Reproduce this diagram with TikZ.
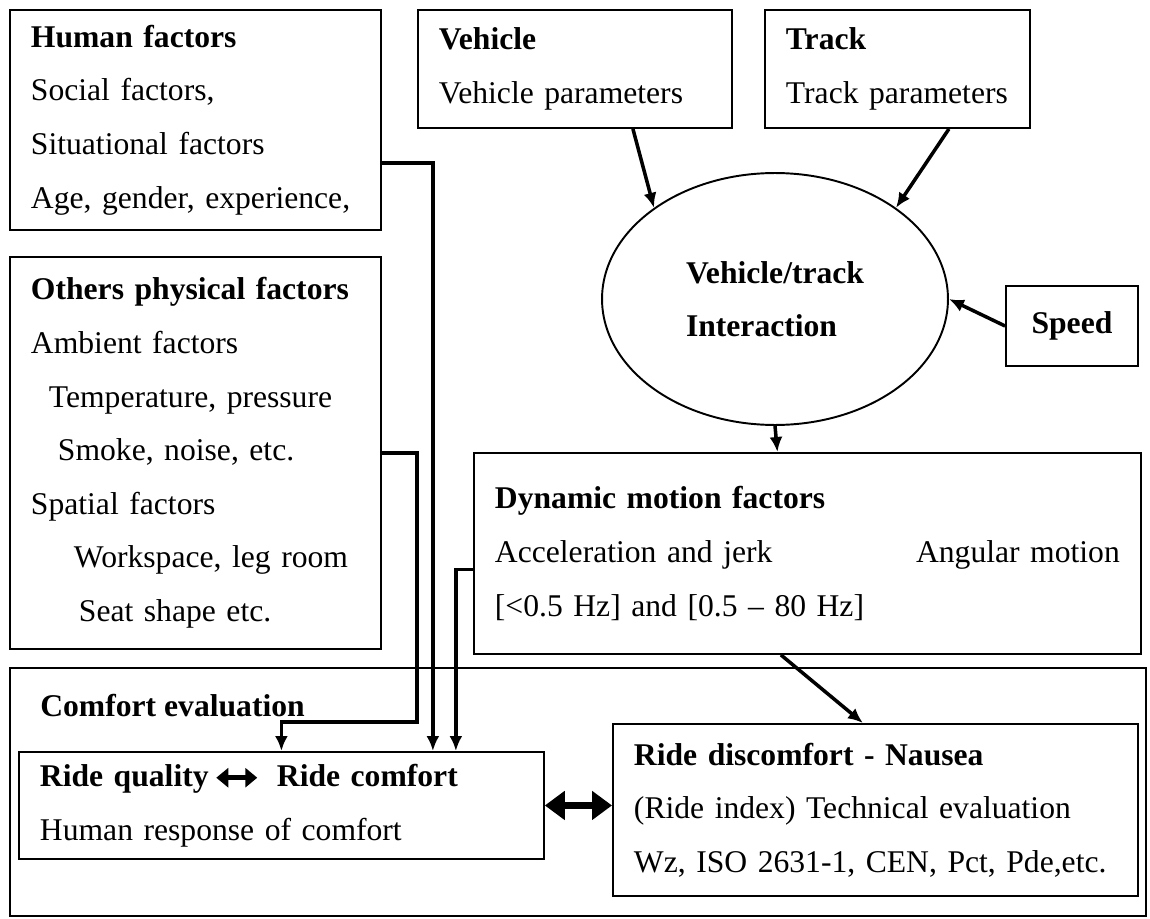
\documentclass[tikz,border=0pt]{standalone}
\usepackage{fontspec}
\setmainfont{Liberation Serif}
\usetikzlibrary{arrows.meta,shapes.geometric}
\usetikzlibrary{positioning}
\tikzset{
    box/.style={
           draw, line width=1.1pt,
           anchor=north west,
           align=left,
           inner xsep=0.42cm, inner ysep=0pt,
           font=\fontsize{18}{30.5}\selectfont,
           },
}
\tikzset{
    conn/.style={
           line width=2pt,
           -{Latex[length=0.3cm,width=0.26cm]},
           },
    dblarrow/.style={
           line width=4pt,
           {Triangle[length=0.4cm,width=0.56cm]}-{Triangle[length=0.4cm,width=0.56cm]},
           },
    glypharrow/.style={
           line width=3pt,
           {Triangle[length=0.24cm,width=0.38cm]}-{Triangle[length=0.24cm,width=0.38cm]},
           },
}

\begin{document}
\begin{tikzpicture}[x=0.02cm,y=-0.02cm]
\useasboundingbox (0,0) rectangle (1150,919);
% outer comfort frame
\node[box,minimum width=22.72cm,minimum height=4.96cm](comf) at (9,667) {};
\node[anchor=base west,inner sep=0pt,font=\fontsize{18}{30.5}\selectfont\bfseries](comftitle) at (40,716) {Comfort evaluation};
% factor boxes
\node[box,text width=6.58cm,minimum height=4.4cm](hum) at (9,9)
  {\textbf{Human factors}\\Social factors,\\Situational factors\\Age, gender, experience,};
\node[box,text width=6.58cm,minimum height=7.84cm](oth) at (9,256)
  {\textbf{Others physical factors}\\Ambient factors\\
   \hspace*{0.36cm}Temperature, pressure\\
   \hspace*{0.54cm}Smoke, noise, etc.\\
   Spatial factors\\
   \hspace*{0.86cm}Workspace, leg room\\
   \hspace*{0.96cm}Seat shape etc.};
\node[box,text width=5.44cm,minimum height=2.36cm](veh) at (417,9)
  {\textbf{Vehicle}\\Vehicle parameters};
\node[box,text width=4.46cm,minimum height=2.36cm](trk) at (764,9)
  {\textbf{Track}\\Track parameters};
\node[draw,ellipse,line width=1.1pt,minimum width=6.92cm,minimum height=5.04cm,inner sep=0pt,
  align=left,font=\fontsize{18}{30.5}\selectfont\bfseries](ell) at (775,299)
  {Vehicle/track\\Interaction};
\node[box,minimum width=2.64cm,minimum height=1.6cm,inner xsep=0pt,align=center](spd) at (1005,285)
  {\textbf{Speed}};
\node[box,text width=12.5cm,minimum height=4.02cm](dyn) at (473,452)
  {\textbf{Dynamic motion factors}\\Acceleration and jerk \hfill Angular motion\\
   {[}<0.5 Hz] and [0.5 -- 80 Hz]};
% evaluation boxes
\node[box,text width=9.66cm,minimum height=2.14cm](rq) at (18,751)
  {\textbf{Ride quality}\hspace{0.1cm}\tikz[baseline=-0.6ex]\draw[glypharrow](0,0)--(0.82cm,0);\hspace{0.34cm}\textbf{Ride comfort}\\
   Human response of comfort};
\node[box,text width=9.66cm,minimum height=3.44cm](rd) at (612,723)
  {\textbf{Ride discomfort - Nausea}\\(Ride index) Technical evaluation\\Wz, ISO 2631-1, CEN, Pct, Pde,etc.};
% connectors
\draw[conn] ([xshift=1.16cm]veh.south) -- (ell.143);
\draw[conn] ([xshift=1.03cm]trk.south) -- (ell.37);
\draw[conn] (spd.west) -- (ell.east);
\draw[conn] (ell.south) -- ([xshift=-0.6cm]dyn.north);
\draw[conn] ([xshift=-0.53cm]dyn.south) -- ([xshift=-0.25cm]rd.north);
\draw[conn] ([yshift=-0.86cm]hum.east) -| ([xshift=3.03cm]rq.north);
\draw[conn] (oth.east) -- ++(0.7cm,0) |- ([yshift=0.58cm]rq.north) -- (rq.north);
\draw[conn] ([yshift=-0.32cm]dyn.west) -| ([xshift=3.49cm]rq.north);
\draw[dblarrow] (rq.east) -- (rq.east -| rd.west);
\end{tikzpicture}
\end{document}
